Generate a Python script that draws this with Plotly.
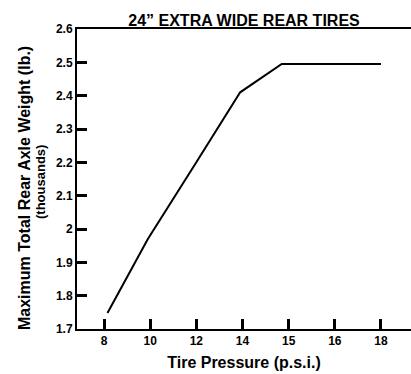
import numpy as np
import plotly.graph_objects as go

# Tire pressure axis: labels are evenly spaced, not proportional
tick_labels = ["8", "10", "12", "14", "15", "16", "18"]
tick_values = [8, 10, 12, 14, 15, 16, 18]
tick_positions = [0, 1, 2, 3, 4, 5, 6]

# Load curve (pressure in p.s.i., weight in thousands of lb.)
pressure = [8.15, 9.9, 12, 13.9, 14.85, 18]
max_weight = [1.748, 1.97, 2.2, 2.41, 2.495, 2.495]

y_ticks = [1.7, 1.8, 1.9, 2.0, 2.1, 2.2, 2.3, 2.4, 2.5, 2.6]
y_tick_labels = ["1.7", "1.8", "1.9", "2", "2.1", "2.2", "2.3", "2.4", "2.5", "2.6"]

# map pressures onto the evenly spaced label scale
x_pos = np.interp(pressure, tick_values, tick_positions)

FONT = "Liberation Sans, Arial, Helvetica, sans-serif"
BOLD = lambda size: dict(family=FONT, size=size, color="black", weight="bold")

fig = go.Figure()
fig.add_trace(go.Scatter(x=x_pos, y=max_weight, mode="lines",
                         line=dict(color="black", width=2), showlegend=False))

fig.update_layout(
    width=411, height=374, margin=dict(l=77, r=0, t=29, b=45),
    plot_bgcolor="white",
    title=dict(text="24\u201d EXTRA WIDE REAR TIRES", font=BOLD(16),
               x=0.5, xref="paper", xanchor="center",
               y=1, yref="paper", yanchor="bottom", pad=dict(b=3)),
    xaxis=dict(range=[-0.585, 6.65], tickmode="array", tickvals=tick_positions, ticktext=tick_labels,
               ticks="inside", ticklen=10, tickwidth=3, tickcolor="#000000",
               showline=True, linecolor="black", linewidth=2, mirror=True,
               showgrid=False, zeroline=False, tickfont=BOLD(12),
               title=dict(text="Tire Pressure (p.s.i.)", font=BOLD(16), standoff=9)),
    yaxis=dict(range=[1.7, 2.6], tickmode="array", tickvals=y_ticks, ticktext=y_tick_labels,
               ticks="inside", ticklen=10, tickwidth=3, tickcolor="#000000",
               showline=True, linecolor="black", linewidth=2,
               showgrid=False, zeroline=False, tickfont=BOLD(12)),
)

# two-line vertical axis title
fig.add_annotation(text="Maximum Total Rear Axle Weight (lb.)",
                   xref="paper", yref="paper", x=0, y=0.5,
                   xanchor="center", yanchor="middle", xshift=-53, yshift=-9,
                   textangle=-90, showarrow=False, font=BOLD(16))
fig.add_annotation(text="(thousands)",
                   xref="paper", yref="paper", x=0, y=0.5,
                   xanchor="center", yanchor="middle", xshift=-37, yshift=-3,
                   textangle=-90, showarrow=False, font=BOLD(13))

fig.write_html("out.html")
